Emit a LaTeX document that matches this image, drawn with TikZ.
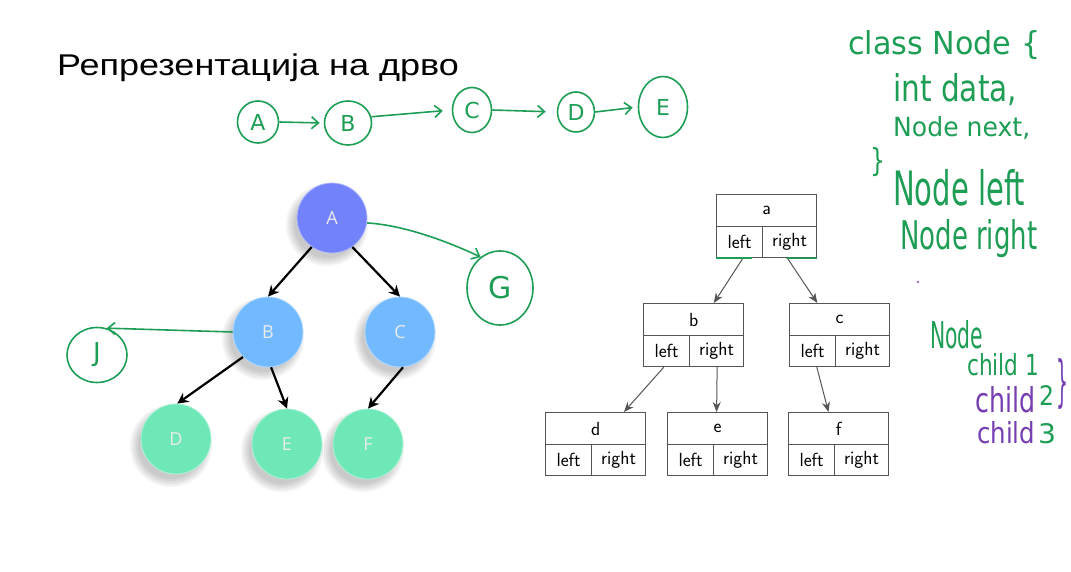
\documentclass[tikz,border=0pt]{standalone}
\usepackage{fontspec}
\setmainfont{Liberation Sans}
\newfontfamily\hand{DejaVu Sans}
\newfontfamily\bubblefont{Open Sans}
\usetikzlibrary{arrows.meta,shapes.geometric,calc}

\definecolor{ink}{RGB}{30,158,85}
\definecolor{inkp}{RGB}{118,62,178}
\definecolor{nA}{RGB}{114,130,250}
\definecolor{nB}{RGB}{114,185,255}
\definecolor{nD}{RGB}{110,232,182}
\definecolor{boxline}{RGB}{85,85,85}

\tikzset{
  bubble/.style={circle, minimum size=70pt, inner sep=0pt, text=white!92!black,
    font=\bubblefont\fontsize{18}{18}\selectfont},
  treearrow/.style={line width=2.2pt, -{Stealth[length=11pt,width=11pt]}},
  cell/.style={draw=boxline, line width=1.2pt, inner sep=0pt, anchor=north west,
    font=\sffamily\fontsize{19}{19}\selectfont},
  ptr/.style={draw=boxline, line width=1pt, -{Stealth[length=10pt,width=8pt]}},
  pen/.style={draw=ink, line width=1.6pt},
  penarrow/.style={pen, -{Straight Barb[length=7pt,width=12pt]}},
  handnode/.style={ellipse, pen, inner sep=0pt, text=ink,
    font=\hand\fontsize{22}{22}\selectfont},
  hwtext/.style={inner sep=0pt, anchor=base west, text=ink, font=\hand},
  hwpurple/.style={hwtext, text=inkp},
}

% soft shadow under a bubble
\newcommand\softshade[2]{%
  \foreach \r in {33,35,37,39,41}{\fill[black,opacity=0.045] (#1-5,#2+7) circle (\r pt);}}

% record box: value on top, left/right pointers below
\newcommand\recnode[4]{%
  \node[cell, minimum width=100pt, minimum height=32pt] (#1) at (#2,#3) {#4};
  \node[cell, minimum width=46pt, minimum height=31pt] (#1l) at (#2,#3+32) {left};
  \node[cell, minimum width=54pt, minimum height=31pt] (#1r) at (#2+46,#3+32) {right};}

\begin{document}
\begin{tikzpicture}[x=1pt, y=-1pt]
\fill[white] (0,0) rectangle (1071,572);
\useasboundingbox (0,0) rectangle (1071,572);

% title
\node[anchor=base west, inner sep=0pt, font=\fontsize{30}{30}\selectfont] (title) at (57,76) {\scalebox{1.2}[1]{Репрезентација на дрво}};

% linked list sketch
\node[handnode, minimum width=41pt, minimum height=42pt] (la) at (258,122) {A};
\node[handnode, minimum width=47pt, minimum height=44pt] (lb) at (348,123) {B};
\node[handnode, minimum width=39pt, minimum height=45pt] (lc) at (472,110) {C};
\node[handnode, minimum width=37pt, minimum height=40pt] (ld) at (576,112) {D};
\node[handnode, minimum width=49pt, minimum height=61pt] (le) at (663,107) {E};
\draw[penarrow, shorten >=4pt] (la.east) -- (lb.west);
\draw[penarrow, shorten >=9pt] (lb.15) -- (lc.west);
\draw[penarrow, shorten >=11pt] (lc.east) -- (ld.west);
\draw[penarrow, shorten >=5pt] (ld.east) -- (le.west);

% general tree
\softshade{332}{218}
\softshade{268}{332}
\softshade{400}{332}
\softshade{176}{439}
\softshade{287}{444}
\softshade{368}{444}
\node[bubble, fill=nA, draw=nA!55!white, line width=0.8pt] (tA) at (332,218) {A};
\node[bubble, fill=nB, draw=nB!55!white, line width=0.8pt] (tB) at (268,332) {B};
\node[bubble, fill=nB, draw=nB!55!white, line width=0.8pt] (tC) at (400,332) {C};
\node[bubble, fill=nD, draw=nD!55!white, line width=0.8pt] (tD) at (176,439) {D};
\node[bubble, fill=nD, draw=nD!55!white, line width=0.8pt] (tE) at (287,444) {E};
\node[bubble, fill=nD, draw=nD!55!white, line width=0.8pt] (tF) at (368,444) {F};
\draw[treearrow] (tA.235) -- (tB.90);
\draw[treearrow] (tA.305) -- (tC.90);
\draw[treearrow] (tB.225) -- (tD.88);
\draw[treearrow] (tB.275) -- (tE.90);
\draw[treearrow] (tC.275) -- (tF.90);

% extra children sketched on the tree
\node[handnode, minimum width=66pt, minimum height=74pt, font=\hand\fontsize{30}{30}\selectfont] (tG) at (500,288) {G};
\node[handnode, minimum width=60pt, minimum height=55pt, font=\hand\fontsize{26}{26}\selectfont] (tJ) at (97,355) {J};
\draw[penarrow] (tA.-8) .. controls (400,225) and (440,238) .. (tG.122);
\draw[penarrow] (tB.west) -- (tJ.70);

% binary tree records
\recnode{ra}{716}{194}{a}
\recnode{rb}{643}{303}{b}
\recnode{rc}{789}{303}{c}
\recnode{rd}{545}{412}{d}
\recnode{re}{667}{412}{e}
\recnode{rf}{788}{412}{f}
\draw[ptr] ($(ral.south west)!0.57!(ral.south east)$) -- ($(rb.north west)!0.70!(rb.north east)$);
\draw[ptr] ($(rar.south west)!0.46!(rar.south east)$) -- ($(rc.north west)!0.28!(rc.north east)$);
\draw[ptr] ($(rbl.south west)!0.44!(rbl.south east)$) -- ($(rd.north west)!0.78!(rd.north east)$);
\draw[ptr] ($(rbr.south west)!0.51!(rbr.south east)$) -- ($(re.north west)!0.49!(re.north east)$);
\draw[ptr] ($(rcl.south west)!0.59!(rcl.south east)$) -- ($(rf.north west)!0.40!(rf.north east)$);
\draw[pen, line width=1.5pt] (ral.south west) -- ++(36,0);
\draw[pen, line width=1.5pt] ($(rar.south west)!0.44!(rar.south east)$) -- (rar.south east);

% class notes
\node[hwtext] (h1) at (848,55) {\resizebox{192pt}{24pt}{class Node \{}};
\node[hwtext] (h2) at (893,102) {\resizebox{124pt}{28pt}{int data,}};
\node[hwtext] (h3) at (893,137) {\resizebox{137pt}{20pt}{Node next,}};
\node[hwtext] (h4) at (870,172) {\resizebox{15pt}{24pt}{\}}};
\node[hwtext] (h5) at (893,205) {\resizebox{132pt}{36pt}{Node left}};
\node[hwtext] (h6) at (900,250) {\resizebox{137pt}{30pt}{Node right}};
\fill[inkp] (918,282) circle (1.2pt);

% n-ary node notes
\node[hwtext] (n1) at (930,348) {\resizebox{53pt}{28pt}{Node}};
\node[hwtext] (n2) at (967,375) {\resizebox{72pt}{22pt}{child 1}};
\node[hwpurple] (n2b) at (1056,400) {\resizebox{12pt}{42pt}{\}}};
\node[hwpurple] (n3) at (975,412) {\resizebox{60pt}{26pt}{child}};
\node[hwtext] (n3n) at (1039,405) {\resizebox{15pt}{20pt}{2}};
\node[hwpurple] (n4) at (977,443) {\resizebox{58pt}{22pt}{child}};
\node[hwtext] (n4n) at (1038,443) {\resizebox{18pt}{20pt}{3}};
\end{tikzpicture}
\end{document}
